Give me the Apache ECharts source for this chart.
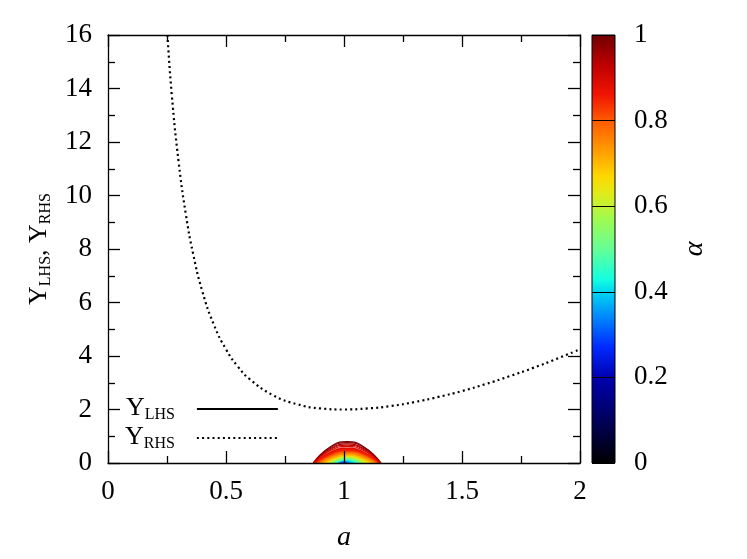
<!DOCTYPE html>
<html><head><meta charset="utf-8">
<script src="https://cdn.jsdelivr.net/npm/echarts@6/dist/echarts.min.js"></script>
<style>html,body{margin:0;padding:0;background:#fff}#c{width:747px;height:559px}</style>
</head><body><div id="c"></div>
<script>
// ---- data ----
const xRange = [0, 2];
const xStep = 0.5;
const yRange = [0, 16];
const yStep = 2;
const cbRange = [0, 1];
const cbStep = 0.2;

// Y_RHS (dotted curve)
const rhsA = [0.252,0.27,0.30,0.33,0.36,0.40,0.45,0.50,0.55,0.60,0.70,0.80,0.90,1.00,1.10,1.20,1.30,1.40,1.50,1.60,1.70,1.80,1.90,2.00];
const rhsY = [16.0,13.79,11.2,9.29,7.85,6.41,5.14,4.25,3.61,3.14,2.53,2.20,2.04,2.00,2.04,2.13,2.28,2.47,2.69,2.95,3.24,3.55,3.89,4.25];

// Y_LHS curves, one per alpha value (a, Y)
const lhsAlpha = [1.00, 0.975, 0.95, 0.925, 0.90, 0.88, 0.85, 0.80, 0.75, 0.70, 0.65, 0.60, 0.55, 0.50, 0.45, 0.40, 0.35, 0.30];
const lhsCurves = [
  [[0.869,0],[0.941,0.60],[1.013,0.80],[1.085,0.60],[1.157,0]],
  [[0.870,0],[0.941,0.57],[1.013,0.76],[1.085,0.57],[1.156,0]],
  [[0.871,0],[0.942,0.535],[1.013,0.715],[1.084,0.535],[1.155,0]],
  [[0.872,0],[0.942,0.50],[1.013,0.67],[1.084,0.50],[1.154,0]],
  [[0.873,0],[0.943,0.465],[1.013,0.62],[1.083,0.465],[1.153,0]],
  [[0.874,0],[0.943,0.43],[1.013,0.57],[1.083,0.43],[1.152,0]],
  [[0.878,0],[0.946,0.38],[1.014,0.51],[1.082,0.38],[1.150,0]],
  [[0.886,0],[0.951,0.32],[1.0155,0.43],[1.080,0.32],[1.145,0]],
  [[0.897,0],[0.957,0.28],[1.0165,0.37],[1.076,0.28],[1.136,0]],
  [[0.910,0],[0.963,0.23],[1.016,0.31],[1.069,0.23],[1.122,0]],
  [[0.924,0],[0.970,0.19],[1.016,0.25],[1.062,0.19],[1.108,0]],
  [[0.935,0],[0.975,0.165],[1.015,0.22],[1.055,0.165],[1.095,0]],
  [[0.945,0],[0.979,0.14],[1.013,0.19],[1.047,0.14],[1.081,0]],
  [[0.955,0],[0.984,0.11],[1.0125,0.15],[1.041,0.11],[1.070,0]],
  [[0.966,0],[0.989,0.083],[1.012,0.11],[1.035,0.083],[1.058,0]],
  [[0.972,0],[0.990,0.064],[1.0085,0.085],[1.027,0.064],[1.045,0]],
  [[0.978,0],[0.991,0.045],[1.004,0.06],[1.017,0.045],[1.030,0]],
  [[0.985,0],[0.9925,0.03],[1.000,0.04],[1.0075,0.03],[1.015,0]]
];

// palette (alpha position -> rgb)
const palPos = [0.00,0.10,0.20,0.27,0.33,0.40,0.43,0.50,0.57,0.63,0.67,0.73,0.80,0.86,0.93,1.00];
const palRGB = [[0,0,0],[0,0,90],[0,0,175],[0,40,255],[0,120,255],[0,215,240],[20,255,225],[100,255,150],[160,250,80],[225,235,25],[255,215,0],[255,155,0],[255,90,0],[240,20,0],[190,0,0],[110,0,0]];

// ---- helpers ----
function palette(v) {
  for (let i = 1; i < palPos.length; i++) {
    if (v <= palPos[i]) {
      const t = (v - palPos[i-1]) / (palPos[i] - palPos[i-1]);
      const c = palRGB[i-1].map((c0, k) => Math.round(c0 + t * (palRGB[i][k] - c0)));
      return 'rgb(' + c.join(',') + ')';
    }
  }
  return 'rgb(' + palRGB[palRGB.length-1].join(',') + ')';
}

const FONT = 'Liberation Serif';
const richDefs = {
  b: { fontFamily: FONT, fontSize: 26, color: '#000', lineHeight: 28, verticalAlign: 'bottom', padding: [0,0,2,0] },
  s: { fontFamily: FONT, fontSize: 16, color: '#000', lineHeight: 16, verticalAlign: 'bottom' },
  g: { width: 17 }
};

const chart = echarts.init(document.getElementById('c'), null, { renderer: 'canvas' });

const lhsSeries = lhsCurves.map((pts, i) => {
  const al = lhsAlpha[i];
  const col = palette(al);
  const filled = al < 0.89;
  return {
    type: 'line', name: 'alpha ' + al, xAxisIndex: 0, yAxisIndex: 0,
    data: pts, smooth: 0.5, symbol: 'none', silent: true, z: 2,
    lineStyle: { color: col, width: filled ? 0.6 : 1.1 },
    areaStyle: filled ? { color: col, opacity: 1 } : undefined
  };
});

const axisCommon = {
  type: 'value',
  axisLine: { show: true, onZero: false, lineStyle: { color: '#000', width: 1.3 } },
  axisTick: { show: true, inside: true, length: 12, lineStyle: { color: '#000', width: 1.3 } },
  minorTick: { show: true, splitNumber: 2, length: 7, lineStyle: { color: '#000', width: 1.3 } },
  splitLine: { show: false },
  z: 4
};

const option = {
  animation: false,
  backgroundColor: '#fff',
  grid: [
    { left: 108, top: 35, width: 472, height: 428 },
    { left: 592, top: 35, width: 23, height: 428 }
  ],
  xAxis: [
    Object.assign({}, axisCommon, {
      gridIndex: 0, position: 'bottom', min: xRange[0], max: xRange[1], interval: xStep,
      axisLabel: { show: true, margin: 15, fontFamily: FONT, fontSize: 27, color: '#000' },
      name: 'a', nameLocation: 'middle', nameGap: 61,
      nameTextStyle: { fontFamily: FONT, fontStyle: 'italic', fontSize: 28, color: '#000' }
    }),
    Object.assign({}, axisCommon, {
      gridIndex: 0, position: 'top', min: xRange[0], max: xRange[1], interval: xStep,
      axisLabel: { show: false }
    }),
    { type: 'value', gridIndex: 1, min: 0, max: 1, show: false }
  ],
  yAxis: [
    Object.assign({}, axisCommon, {
      gridIndex: 0, position: 'left', min: yRange[0], max: yRange[1], interval: yStep,
      axisLabel: { show: true, margin: 16, fontFamily: FONT, fontSize: 27, color: '#000' },
      name: '{b|Y}{s|LHS}{b|, Y}{s|RHS}', nameLocation: 'middle', nameGap: 46, nameRotate: 90,
      nameTextStyle: { rich: richDefs }
    }),
    Object.assign({}, axisCommon, {
      gridIndex: 0, position: 'right', min: yRange[0], max: yRange[1], interval: yStep,
      axisLabel: { show: false }
    }),
    {
      type: 'value', gridIndex: 1, position: 'right', min: cbRange[0], max: cbRange[1], interval: cbStep,
      axisLine: { show: false }, axisTick: { show: false },
      splitLine: { show: true, lineStyle: { color: '#000', width: 1 } },
      axisLabel: { show: true, margin: 19, fontFamily: FONT, fontSize: 27, color: '#000' },
      name: 'α', nameLocation: 'middle', nameGap: 66, nameRotate: 90,
      nameTextStyle: { fontFamily: FONT, fontStyle: 'italic', fontSize: 28, color: '#000' },
      z: 5
    }
  ],
  legend: {
    orient: 'vertical', left: 120, top: 390, align: 'right',
    itemWidth: 81, itemHeight: 12, itemGap: 1,
    data: ['Y_LHS', 'Y_RHS'],
    formatter: n => '{b|Y}{s|' + n.slice(2) + '}{g|}',
    textStyle: { rich: richDefs },
    itemStyle: { opacity: 0 },
    selectedMode: false
  },
  series: lhsSeries.concat([
    {
      type: 'line', name: 'Y_LHS', xAxisIndex: 0, yAxisIndex: 0, data: [],
      symbol: 'none', lineStyle: { color: '#000', width: 1.2 }, itemStyle: { color: '#000' }
    },
    {
      type: 'line', name: 'Y_RHS', xAxisIndex: 0, yAxisIndex: 0,
      data: rhsA.map((a, i) => [a, rhsY[i]]), smooth: true, symbol: 'none', z: 3,
      lineStyle: { color: '#000', width: 2.2, type: [2, 3.2] }, itemStyle: { color: '#000' }
    },
    {
      type: 'custom', xAxisIndex: 2, yAxisIndex: 2, data: [[0, 1]], silent: true, z: 1,
      renderItem: function (params, api) {
        const p0 = api.coord([0, cbRange[0]]);
        const p1 = api.coord([1, cbRange[1]]);
        const stops = palPos.map((p, i) => ({ offset: p, color: 'rgb(' + palRGB[i].join(',') + ')' }));
        return {
          type: 'rect',
          shape: { x: p0[0], y: p1[1], width: p1[0] - p0[0], height: p0[1] - p1[1] },
          style: { fill: new echarts.graphic.LinearGradient(0, 1, 0, 0, stops), stroke: '#000', lineWidth: 1 }
        };
      }
    }
  ])
};
chart.setOption(option);
</script>
</body></html>
